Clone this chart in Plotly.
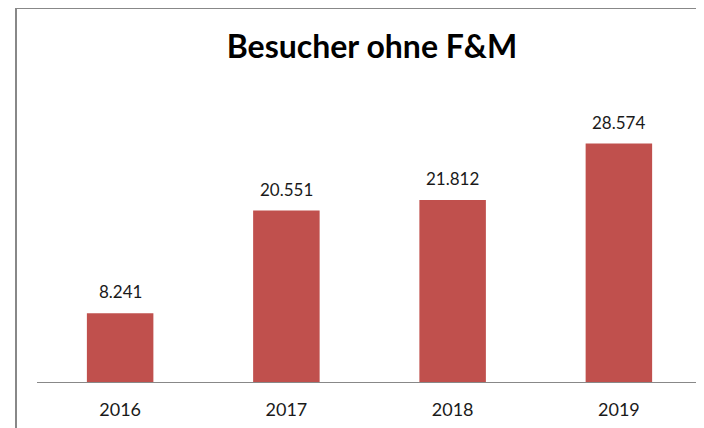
import plotly.graph_objects as go

years = ["2016", "2017", "2018", "2019"]
visitors = [8241, 20551, 21812, 28574]
labels = ["8.241", "20.551", "21.812", "28.574"]

W, H = 704, 428
OFF = 7  # page offset of the figure inside the window
ml, mr, mt, mb = 36 - OFF, 3 + OFF, 89 - OFF, 47 + OFF
ph = H - mt - mb
pw = W - ml - mr

fig = go.Figure()
fig.add_trace(go.Bar(
    x=years, y=visitors, width=0.4,
    marker=dict(color="#C0504D", line=dict(width=0)),
    hoverinfo="skip",
))

for i, (y, t) in enumerate(zip(visitors, labels)):
    fig.add_annotation(x=i, y=y, text=t, showarrow=False, yanchor="bottom",
                       yshift=9, font=dict(family="Lato", size=17, color="#1a1a1a"))

# chart frame (top and left edges visible), in screen pixels
def px_x(p):
    return (p - OFF - ml) / pw
def px_y(p):
    return (H - mb - (p - OFF)) / ph

frame = dict(color="#888888", width=2)
fig.add_shape(type="line", xref="paper", yref="paper",
              x0=px_x(14), x1=px_x(720), y0=px_y(7), y1=px_y(7), line=frame)
fig.add_shape(type="line", xref="paper", yref="paper",
              x0=px_x(15), x1=px_x(15), y0=px_y(6), y1=px_y(440), line=frame)

fig.update_layout(
    width=W, height=H,
    margin=dict(l=ml, r=mr, t=mt, b=mb, autoexpand=False),
    paper_bgcolor="white", plot_bgcolor="white",
    showlegend=False,
    title=dict(text="<b>Besucher ohne F&M</b>", x=(371 - OFF) / W, xanchor="center",
               xref="container", yref="container", y=1 - (46 - OFF) / H, yanchor="middle",
               font=dict(family="Lato", size=32, color="#000000")),
    xaxis=dict(type="category", range=[-0.5, 3.5], automargin=False,
               showline=True, linecolor="#888888", linewidth=1, ticks="",
               showgrid=False, zeroline=False, ticklabelstandoff=11,
               tickfont=dict(family="Lato", size=18, color="#1a1a1a")),
    yaxis=dict(range=[0, 35000], visible=False, showgrid=False, zeroline=False,
               automargin=False),
)

fig.write_html("out.html")
